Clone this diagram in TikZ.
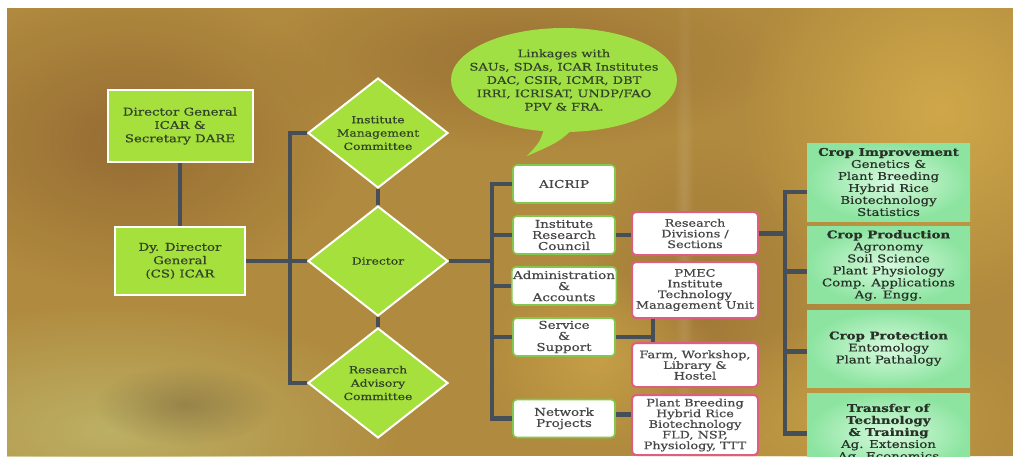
\documentclass[tikz,border=0pt]{standalone}
\usepackage{fontspec}
\setmainfont[FakeStretch=1.25,FakeBold=0.6]{DejaVu Serif}
\usetikzlibrary{positioning}
\usetikzlibrary{calc}
\usetikzlibrary{shapes.geometric}
\usetikzlibrary{fadings}

\definecolor{bgbase}{RGB}{176,138,62}
\definecolor{bgolive}{RGB}{188,176,100}
\definecolor{bgdark}{RGB}{120,100,60}
\definecolor{bgbrown}{RGB}{150,108,52}
\definecolor{bggold}{RGB}{208,168,74}
\definecolor{limegreen}{RGB}{166,224,60}
\definecolor{bubblegreen}{RGB}{160,224,68}
\definecolor{limetext}{RGB}{50,68,40}
\definecolor{linkgray}{RGB}{70,78,88}
\definecolor{wboxline}{RGB}{130,200,80}
\definecolor{pinkline}{RGB}{220,95,130}
\definecolor{boxtext}{RGB}{70,70,70}
\definecolor{mint}{RGB}{140,228,160}
\definecolor{mintlight}{RGB}{215,250,222}
\definecolor{gtext}{RGB}{40,50,40}

\tikzfading[name=soft,inner color=transparent!0,outer color=transparent!100]

\begin{document}
\begin{tikzpicture}[x=0.75pt,y=-0.75pt,semithick,node distance=38.25pt,
					font=\fontsize{8}{10}\selectfont]
					\tikzstyle{conn}=[draw=linkgray,line width=3.7pt]
					\tikzstyle{lime}=[rectangle,fill=limegreen,draw=white,line width=1.5pt,text=limetext,align=center,
					minimum width=108.75pt,minimum height=54pt]
					\tikzstyle{dmd}=[diamond,aspect=1.27,inner sep=0pt,fill=limegreen,draw=white,line width=1.5pt,
					text=limetext,align=center,minimum width=105pt,minimum height=82.5pt,font=\fontsize{7.4}{10}\selectfont]
					\tikzstyle{wbox}=[rectangle,rounded corners=3pt,fill=white,draw=wboxline,line width=1.2pt,text=boxtext,
					align=center,minimum width=76.5pt,minimum height=28.5pt,inner sep=1pt,font=\fontsize{8.1}{8.3}\selectfont]
					\tikzstyle{pbox}=[rectangle,rounded corners=3pt,fill=white,draw=pinkline,line width=1.5pt,text=boxtext,
					align=center,minimum width=94.5pt,inner sep=1pt,font=\fontsize{7.7}{8}\selectfont]
					\tikzstyle{gbox}=[rectangle,inner color=mintlight,outer color=mint,text=gtext,align=center,
					minimum width=122.25pt,inner sep=1pt,font=\fontsize{8}{9}\selectfont]
					\tikzstyle{blob}=[path fading=soft]
					
					\useasboundingbox (0,0) rectangle (1013,458);
					\fill[white] (0,0) rectangle (1013,458);
					\begin{scope}
					\clip (7,8) rectangle (1013,456);
					\fill[bgbase] (7,8) rectangle (1013,456);
					\fill[bgbrown,blob] (130,140) ellipse [x radius=220,y radius=150];
					\fill[bgbrown,blob,opacity=.8] (520,60) ellipse [x radius=260,y radius=90];
					\fill[bgbrown,blob,opacity=.6] (700,300) ellipse [x radius=120,y radius=160];
					\fill[bgolive,blob] (110,430) ellipse [x radius=300,y radius=130];
					\fill[bgdark,blob,opacity=.5] (185,405) ellipse [x radius=90,y radius=40];
					\fill[bggold,blob] (940,110) ellipse [x radius=200,y radius=200];
					\fill[bggold,blob,opacity=.7] (600,360) ellipse [x radius=120,y radius=90];
					\fill[bggold,blob,opacity=.6] (850,420) ellipse [x radius=200,y radius=100];
					\fill[white,blob,opacity=.12] (684,230) ellipse [x radius=10,y radius=300];
					\end{scope}
					
					\coordinate (bub) at (564,80);
					\coordinate (tip) at (527,156);
					\fill[bubblegreen] ($(bub)+(-19,46)$) .. controls ($(bub)+(-24,62)$) .. (tip)
					.. controls ($(bub)+(-5,62)$) .. ($(bub)+(12,46)$) -- cycle;
					\fill[bubblegreen] (bub) ellipse [x radius=113,y radius=52];
					\node[font=\fontsize{7.8}{10}\selectfont,text=limetext,align=center] (linkages) at (bub)
					{Linkages with\\SAUs, SDAs, ICAR Institutes\\DAC, CSIR, ICMR, DBT\\IRRI, ICRISAT, UNDP/FAO\\PPV \& FRA.};
					
					\node[lime]         (dg)   at (180,126)  {Director General\\ICAR \&\\Secretary DARE};
					\node[lime,minimum width=97.5pt,minimum height=51pt] (dydg) at (180,261) {Dy. Director\\General\\(CS) ICAR};
					
					\node[dmd]          (imc)  at (378,133)  {Institute\\Management\\Committee};
					\node[dmd]          (dir)  at (378,261)  {Director};
					\node[dmd]          (rac)  at (378,383)  {Research\\Advisory\\Committee};
					
					\node[wbox]         (aicrip) at (564,184)      {AICRIP};
					\node[wbox]         (irc)   [below of=aicrip]  {Institute\\Research\\Council};
					\node[wbox]         (admin) [below of=irc]     {Administration\\\&\\Accounts};
					\node[wbox]         (serv)  [below of=admin]   {Service\\\&\\Support};
					\node[wbox]         (net)   [below of=serv,node distance=61.1pt] {Network\\Projects};
					
					\node[pbox,minimum height=32.25pt] (rdiv) at (695,233.5) {Research\\Divisions /\\Sections};
					\node[pbox,minimum height=42pt]    (pmec) at (695,290)   {PMEC\\Institute\\Technology\\Management Unit};
					\node[pbox,minimum height=33pt]    (farm) at (695,365)   {Farm, Workshop,\\Library \&\\Hostel};
					\node[pbox,minimum height=45pt]    (pbr)  at (695,425)   {Plant Breeding\\Hybrid Rice\\Biotechnology\\FLD, NSP,\\Physiology, TTT};
					
					\begin{scope}
					\clip (7,8) rectangle (1013,456);
					\node[gbox,minimum height=58.5pt]  (ci)    at (888.5,182) {\textbf{Crop Improvement}\\Genetics \&\\Plant Breeding\\Hybrid Rice\\Biotechnology\\Statistics};
					\node[gbox,minimum height=57.75pt] (cp)    [below of=ci,node distance=62.6pt] {\textbf{Crop Production}\\Agronomy\\Soil Science\\Plant Physiology\\Comp. Applications\\Ag. Engg.};
					\node[gbox,minimum height=57.75pt] (cprot) [below of=cp,node distance=62.3pt] {\textbf{Crop Protection}\\Entomology\\Plant Pathalogy};
					\node[gbox,minimum height=60pt]    (tot)   [below of=cprot,node distance=63.4pt] {\textbf{Transfer of}\\\textbf{Technology}\\\textbf{\& Training}\\Ag. Extension\\Ag. Economics};
					\end{scope}
					
					\coordinate (lbus) at (290,0);
					\coordinate (mbus) at (492,0);
					\coordinate (sbus) at (653,0);
					\coordinate (rbus) at (785,0);
					
					\draw[conn] (dg) -- (dydg);
					\draw[conn] (dydg) -- (dir);
					\draw[conn] (imc) -- (dir);
					\draw[conn] (dir) -- (rac);
					\draw[conn] (imc.west) -| (lbus |- rac.west) -- (rac.west);
					
					\draw[conn] (dir.east) -- (dir.east -| mbus);
					\draw[conn] (aicrip.west) -| (mbus |- net.west) -- (net.west);
					\foreach \n in {irc,admin,serv}
					\draw[conn] (\n.west) -- (\n.west -| mbus);
					
					\draw[conn] (irc.east) -- (irc.east -| rdiv.west);
					\draw[conn] (serv.east) -- (serv.east -| sbus);
					\draw[conn] (pmec.south -| sbus) -- (farm.north -| sbus);
					\draw[conn] ($(net.east)+(0,-4)$) -- ($(net.east -| pbr.west)+(0,-4)$);
					
					\draw[conn] (rdiv.east) -- (rdiv.east -| rbus);
					\draw[conn] ($(ci.west)+(0,10)$) -| (rbus |- tot.west) -- (tot.west);
					\draw[conn] ($(cp.west)+(0,6)$) -- ($(cp.west -| rbus)+(0,6)$);
					\draw[conn] ($(cprot.west)+(0,3)$) -- ($(cprot.west -| rbus)+(0,3)$);
					\end{tikzpicture}
\end{document}
